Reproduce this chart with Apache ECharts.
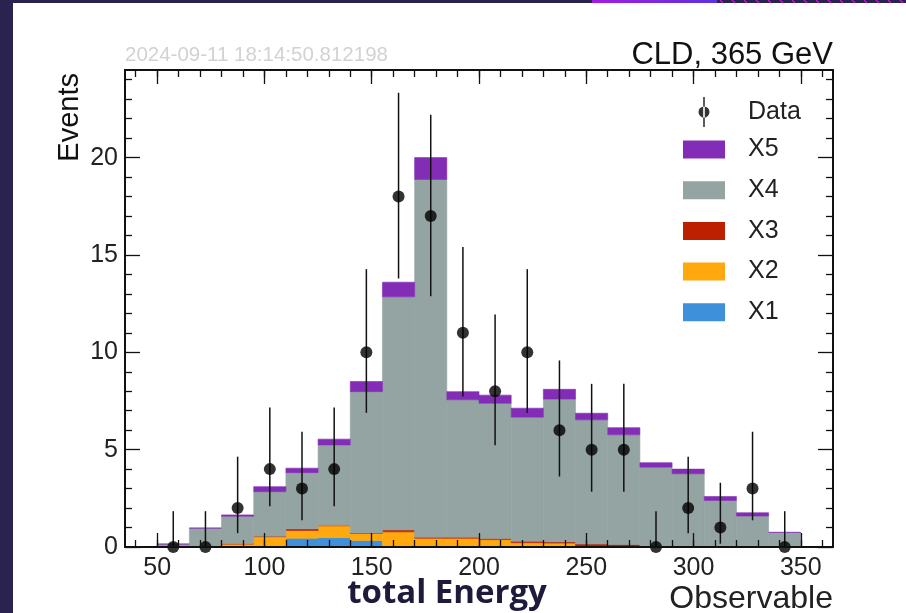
<!DOCTYPE html>
<html><head><meta charset="utf-8">
<script src="https://cdn.jsdelivr.net/npm/echarts@6/dist/echarts.min.js"></script>
<style>html,body{margin:0;padding:0;background:#fff}#c{width:906px;height:613px}</style>
</head><body><div id="c"></div>
<script>
// ---- data ----
const binEdges = [50,65,80,95,110,125,140,155,170,185,200,215,230,245,260,275,290,305,320,335,350];
const x1Values = [0,0,0,0.05,0.45,0.48,0.33,0.02,0,0,0,0,0,0,0,0,0,0,0,0];
const x2Values = [0,0.02,0.15,0.48,0.40,0.61,0.37,0.76,0.45,0.45,0.38,0.22,0.20,0.05,0.03,0,0,0,0,0];
const x3Values = [0,0,0.02,0.02,0.08,0.02,0.02,0.09,0.05,0.05,0.06,0.08,0.06,0.10,0.10,0.02,0,0,0,0];
const x4Values = [0.15,0.95,1.41,2.29,2.89,4.13,7.26,11.98,18.38,7.06,6.94,6.37,7.34,6.38,5.63,4.08,3.76,2.39,1.59,0.75];
const x5Values = [0,0,0.07,0.26,0.23,0.30,0.52,0.75,1.12,0.42,0.42,0.46,0.50,0.34,0.37,0.23,0.24,0.20,0.17,0];
const dataCounts  = [0,0,2,4,3,4,10,18,17,11,8,10,6,5,5,0,2,1,3,0];
const dataErrLow  = [0,0,0.71,2.09,1.37,2.09,6.89,13.79,12.88,7.73,5.23,6.89,3.62,2.84,2.84,0,0.71,0.17,1.37,0];
const dataErrHigh = [1.84,1.84,4.64,7.16,5.92,7.16,14.27,23.33,22.2,15.41,11.94,14.27,9.58,8.38,8.38,1.84,4.64,3.30,5.92,1.84];
const xMajorTicks = [50,100,150,200,250,300,350];
const xMinorTicks = [40,50,60,70,80,90,100,110,120,130,140,150,160,170,180,190,200,210,220,230,240,250,260,270,280,290,300,310,320,330,340,350,360];
const yMajorTicks = [0,5,10,15,20];
const yMinorTicks = [1,2,3,4,6,7,8,9,11,12,13,14,16,17,18,19,21,22,23,24];
const stackNames = ['X1','X2','X3','X4','X5'];
const stackColors = ['#3f90da','#ffa90e','#bd1f01','#94a4a2','#832db6'];
const stackValues = [x1Values,x2Values,x3Values,x4Values,x5Values];

const FONT = 'Liberation Sans';
const chart = echarts.init(document.getElementById('c'), null, {renderer:'canvas'});

const nBins = binEdges.length - 1;
const cumul = new Array(nBins).fill(0);
const stackSeries = stackValues.map((vals, s) => {
  const data = [];
  for (let i = 0; i < nBins; i++) {
    const base = cumul[i];
    const top = base + vals[i];
    cumul[i] = top;
    data.push([binEdges[i], binEdges[i+1], base, top]);
  }
  const color = stackColors[s];
  return {
    type:'custom', name: stackNames[s], xAxisIndex:0, yAxisIndex:0, z:2,
    itemStyle:{color},
    encode:{x:[0,1], y:[2,3]},
    data,
    renderItem:(params, api) => {
      const p1 = api.coord([api.value(0), api.value(3)]);
      const p2 = api.coord([api.value(1), api.value(2)]);
      return {type:'rect', shape:{x:p1[0], y:p1[1], width:p2[0]-p1[0], height:p2[1]-p1[1]},
        style:{fill:color, stroke:color, lineWidth:0.6}};
    }
  };
});

const centers = [];
for (let i = 0; i < nBins; i++) centers.push((binEdges[i]+binEdges[i+1])/2);

const errSeries = {
  type:'custom', name:'DataErr', xAxisIndex:0, yAxisIndex:0, z:4,
  encode:{x:0, y:[1,2]},
  data: centers.map((c,i)=>[c, dataErrLow[i], dataErrHigh[i]]),
  renderItem:(params, api) => {
    const a = api.coord([api.value(0), api.value(1)]);
    const b = api.coord([api.value(0), api.value(2)]);
    return {type:'line', shape:{x1:a[0], y1:a[1], x2:b[0], y2:b[1]}, style:{stroke:'#111', lineWidth:1.5}};
  }
};
const dataSeries = {
  type:'scatter', name:'Data', xAxisIndex:0, yAxisIndex:0, z:5,
  symbol:'circle', symbolSize:12, itemStyle:{color:'#000'},
  data: centers.map((c,i)=>[c, dataCounts[i]])
};

const tickColor = '#111';
function xAx(pos, major) {
  return {
    type:'value', min:35, max:365, position:pos, z:10,
    axisLine:{show:major, onZero:false, lineStyle:{color:tickColor, width:2}},
    splitLine:{show:false},
    axisTick:{show:true, inside:true, length: major?14:7, customValues: major?xMajorTicks:xMinorTicks, lineStyle:{color:tickColor, width:1.3}},
    axisLabel: (major && pos==='bottom') ? {show:true, customValues:xMajorTicks, fontSize:25, color:'#222', margin:9, fontFamily:FONT} : {show:false}
  };
}
function yAx(pos, major) {
  return {
    type:'value', min:0, max:24.5, position:pos, z:10,
    axisLine:{show:major, onZero:false, lineStyle:{color:tickColor, width:2}},
    splitLine:{show:false},
    axisTick:{show:true, inside:true, length: major?15:7, customValues: major?yMajorTicks:yMinorTicks, lineStyle:{color:tickColor, width:1.3}},
    axisLabel: (major && pos==='left') ? {show:true, customValues:yMajorTicks, fontSize:25, color:'#222', margin:7, fontFamily:FONT} : {show:false}
  };
}

const dataIcon = 'path://M0,0h0.01v0.01h-0.01z M41.99,29.99h0.01v0.01h-0.01z M20.2,0h1.6v30h-1.6z M15.5,15a5.5,5.5 0 1,0 11,0a5.5,5.5 0 1,0 -11,0z';

const option = {
  backgroundColor:'#fff',
  animation:false,
  grid:{left:125, top:70, width:708, height:477, containLabel:false, show:false},
  title:[
    {text:'CLD, 365 GeV', right:68, top:35, textStyle:{fontSize:31, fontWeight:'normal', color:'#111', fontFamily:FONT}},
    {text:'2024-09-11 18:14:50.812198', left:120, top:40, textStyle:{fontSize:20.5, fontWeight:'normal', color:'#d2d2d2', fontFamily:FONT}}
  ],
  legend:[
    {data:[{name:'Data', icon:dataIcon}], orient:'vertical', left:678, top:92, itemWidth:42, itemHeight:30,
     selectedMode:false, textStyle:{fontSize:25, color:'#222', fontFamily:FONT, padding:[0,0,0,18]}},
    {data:['X5','X4','X3','X2','X1'].map(n=>({name:n, icon:'rect'})), orient:'vertical', left:678, top:132,
     itemWidth:42, itemHeight:18, itemGap:15.7, selectedMode:false,
     textStyle:{fontSize:25, color:'#222', fontFamily:FONT, lineHeight:18, padding:[0,0,0,18]}}
  ],
  xAxis:[xAx('bottom',true), xAx('bottom',false), xAx('top',true), xAx('top',false)],
  yAxis:[yAx('left',true), yAx('left',false), yAx('right',true), yAx('right',false)],
  graphic:[
    {type:'rect', shape:{x:0,y:0,width:13,height:613}, style:{fill:'#2a2350'}, z:100},
    {type:'rect', shape:{x:0,y:0,width:906,height:3}, style:{fill:'#2a2350'}, z:100},
    {type:'rect', shape:{x:592,y:0,width:125,height:3}, z:101,
     style:{fill:new echarts.graphic.LinearGradient(0,0,1,0,[{offset:0,color:'#a31ce0'},{offset:1,color:'#5b33e0'}])}},
    ...Array.from({length:16}, (_,k)=>({type:'line', z:101, shape:{x1:720+k*12, y1:0, x2:723+k*12, y2:3}, style:{stroke:'#c21fd0', lineWidth:1.2}})),
    {type:'text', z:50, x:70, y:73, rotation:Math.PI/2,
     style:{text:'Events', fontSize:29, fill:'#111', fontFamily:FONT, align:'right', verticalAlign:'middle'}},
    {type:'text', z:50, x:833, y:599,
     style:{text:'Observable', fontSize:32, fill:'#222', fontFamily:FONT, align:'right', verticalAlign:'middle'}},
    {type:'text', z:50, x:447, y:594,
     style:{text:'total Energy', fontSize:33, fontWeight:'bold', fill:'#1e1a3c', fontFamily:'Open Sans', align:'center', verticalAlign:'middle'}}
  ],
  series:[...stackSeries, errSeries, dataSeries]
};
chart.setOption(option);
</script></body></html>
